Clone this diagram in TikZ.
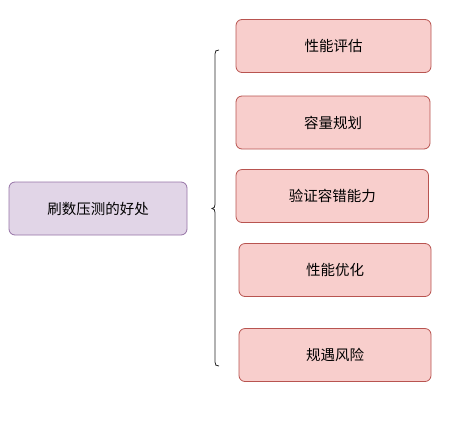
\documentclass[tikz,border=0pt]{standalone}
\usepackage{fontspec}
\newfontfamily\cjk{Noto Sans CJK SC}
\definecolor{pfill}{HTML}{E1D5E7}
\definecolor{pline}{HTML}{9673A6}
\definecolor{rfill}{HTML}{F8CECC}
\definecolor{rline}{HTML}{B85450}
\begin{document}
\begin{tikzpicture}[x=1pt,y=-1pt,
  box/.style={rounded corners=6pt, line width=0.8pt},
  lbl/.style={font=\cjk\fontsize{14.5}{17}\selectfont, text=black}]
\useasboundingbox (0,0) rectangle (457,429);
% left box
\draw[box, fill=pfill, draw=pline] (9,182) rectangle (187,235);
\node[lbl] (main) at (98,208.5) {刷数压测的好处};
% right boxes
\draw[box, fill=rfill, draw=rline] (236,19.5) rectangle (431,72.5);
\node[lbl] (b1) at (333.5,46) {性能评估};
\draw[box, fill=rfill, draw=rline] (236,96) rectangle (430,149);
\node[lbl] (b2) at (333,122.5) {容量规划};
\draw[box, fill=rfill, draw=rline] (236,169.5) rectangle (428.5,222.5);
\node[lbl] (b3) at (332.25,196) {验证容错能力};
\draw[box, fill=rfill, draw=rline] (239,243.5) rectangle (431,296.5);
\node[lbl] (b4) at (335,270) {性能优化};
\draw[box, fill=rfill, draw=rline] (239,328.5) rectangle (431,381.5);
\node[lbl] (b5) at (335,355) {规遇风险};
% brace
\coordinate (bt) at (219,50);
\coordinate (bm) at (212,208.5);
\coordinate (bb) at (219,366);
\draw[line width=0.8pt, draw=black!85]
  (bt) .. controls (216,50) and (215,51) .. (215,54)
  -- (215,204.5) .. controls (215,207) and (214,208.5) .. (bm)
  .. controls (214,208.5) and (215,210) .. (215,212.5)
  -- (215,362) .. controls (215,365) and (216,366) .. (bb);
\end{tikzpicture}
\end{document}
